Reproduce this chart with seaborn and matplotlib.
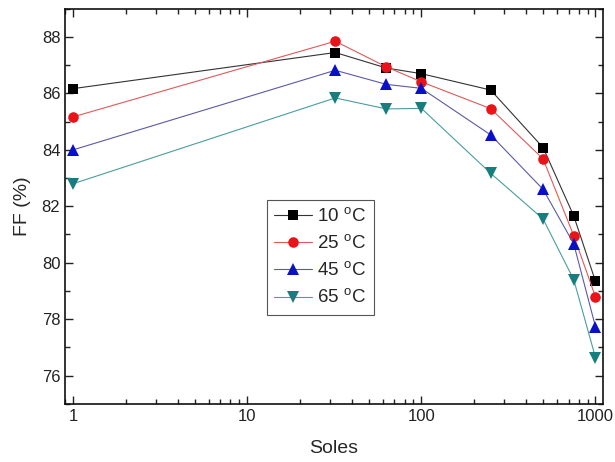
import pandas as pd
import matplotlib.pyplot as plt
import seaborn as sns
import matplotlib
from matplotlib.ticker import LogLocator, MultipleLocator, FixedLocator, FixedFormatter, NullFormatter

sns.set_style('ticks')
matplotlib.rcParams['font.family'] = ['Liberation Sans', 'DejaVu Sans']
matplotlib.rcParams['mathtext.fontset'] = 'custom'
matplotlib.rcParams['mathtext.rm'] = 'Liberation Sans'

# Data
soles = [1, 32, 63, 100, 250, 500, 750, 1000]
ff_10 = [86.17, 87.45, 86.90, 86.70, 86.12, 84.08, 81.66, 79.34]
ff_25 = [85.17, 87.85, 86.94, 86.41, 85.46, 83.68, 80.96, 78.79]
ff_45 = [84.00, 86.82, 86.32, 86.18, 84.53, 82.60, 80.67, 77.73]
ff_65 = [82.80, 85.84, 85.45, 85.47, 83.17, 81.55, 79.40, 76.64]
labels = ['10 $^{\\rm o}$C', '25 $^{\\rm o}$C', '45 $^{\\rm o}$C', '65 $^{\\rm o}$C']
series = [ff_10, ff_25, ff_45, ff_65]

rows = []
for lab, vals in zip(labels, series):
    for s, v in zip(soles, vals):
        rows.append({'Soles': s, 'FF': v, 'T': lab})
df = pd.DataFrame(rows)

colors = ['#000000', '#e8141a', '#0a10c8', '#167e7e']
line_colors = ['#333333', '#e05a5a', '#5a5aa8', '#4a9e9e']
markers = ['s', 'o', '^', 'v']
msizes = [7.0, 7.6, 8.2, 8.2]

fig = plt.figure(figsize=(6.15, 4.62), dpi=100)
ax = fig.add_axes([0.106, 0.126, 0.874, 0.855])

sns.lineplot(data=df, x='Soles', y='FF', hue='T', style='T',
             palette=colors, markers=markers, dashes=False,
             markeredgewidth=0, linewidth=0.8, ax=ax, legend=False)

# thinner, lighter connecting lines, markers keep full colour
data_lines = [ln for ln in ax.lines if len(ln.get_xdata()) > 0]
for ln, lc, mc, ms in zip(data_lines, line_colors, colors, msizes):
    ln.set_color(lc)
    ln.set_markerfacecolor(mc)
    ln.set_markeredgecolor(mc)
    ln.set_markersize(ms)

ax.set_xscale('log')
ax.set_xlim(0.9, 1100)
ax.set_ylim(75, 89)
ax.yaxis.set_major_locator(FixedLocator([76, 78, 80, 82, 84, 86, 88]))
ax.yaxis.set_minor_locator(MultipleLocator(1))
ax.xaxis.set_major_locator(FixedLocator([1, 10, 100, 1000]))
ax.xaxis.set_major_formatter(FixedFormatter(['1', '10', '100', '1000']))
ax.xaxis.set_minor_locator(LogLocator(base=10, subs=range(2, 10)))
ax.xaxis.set_minor_formatter(NullFormatter())

ax.tick_params(which='both', direction='in', top=True, right=True, width=1, labelsize=12, colors='#222222')
ax.tick_params(which='major', length=6)
ax.tick_params(which='minor', length=3.5)
for sp in ax.spines.values():
    sp.set_linewidth(1.2)
    sp.set_color('#111111')

ax.set_xlabel('Soles', fontsize=14, labelpad=12)
ax.set_ylabel('FF (%)', fontsize=14, labelpad=8)

leg = ax.legend(handles=data_lines, labels=labels, loc='upper left',
                bbox_to_anchor=(0.375, 0.517), borderaxespad=0, borderpad=0.4,
                fontsize=13.5, fancybox=False, edgecolor='#555555', framealpha=1,
                handlelength=2.0, handletextpad=0.3, labelspacing=0.45)
leg.get_frame().set_linewidth(0.8)

plt.savefig('out.png', dpi=100)
